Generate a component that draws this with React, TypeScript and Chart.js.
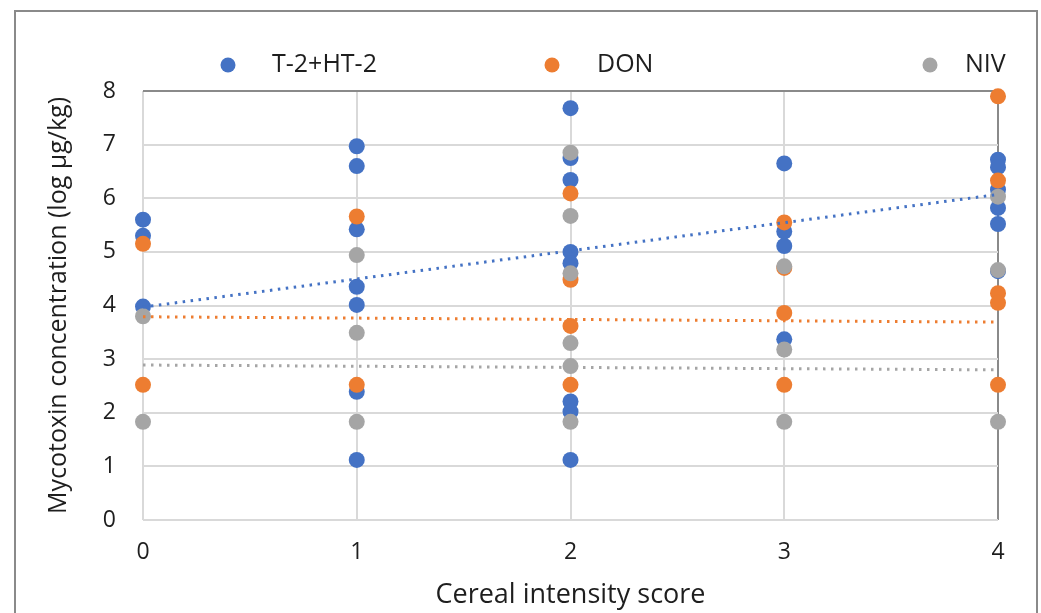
import React, { useEffect, useRef } from "react";
import { Chart, registerables } from "chart.js";

Chart.register(...registerables);

// Cereal intensity scores (x categories)
const scores = [0, 1, 2, 3, 4];

// Mycotoxin concentrations (log µg/kg) per score
const t2Values = [
  [5.6, 5.3, 3.98],
  [6.97, 6.6, 5.42, 4.35, 4.01, 2.39, 1.12],
  [7.68, 6.75, 6.34, 5.0, 4.79, 2.21, 2.02, 1.12],
  [6.65, 5.38, 5.11, 3.37],
  [6.72, 6.58, 6.16, 5.82, 5.52, 4.64],
];
const donValues = [
  [5.15, 2.52],
  [5.66, 2.52],
  [6.09, 4.48, 3.62, 2.52],
  [5.55, 4.7, 3.86, 2.52],
  [7.9, 6.33, 4.23, 4.05, 2.52],
];
const nivValues = [
  [3.8, 1.83],
  [4.94, 3.49, 1.83],
  [6.85, 5.67, 4.6, 3.3, 2.87, 1.83],
  [4.73, 3.18, 1.83],
  [6.03, 4.66, 1.83],
];

// Linear trendline end values (at score 0 and 4)
const trendX = [0, 4];
const t2Trend = [3.97, 6.07];
const donTrend = [3.79, 3.69];
const nivTrend = [2.89, 2.8];

const seriesNames = ["T-2+HT-2", "DON", "NIV"];
const yTicks = [0, 1, 2, 3, 4, 5, 6, 7, 8];

const BLUE = "#4472C4";
const ORANGE = "#ED7D31";
const GRAY = "#A5A5A5";
const FONT = "'Open Sans', 'Noto Sans', sans-serif";
const TEXT = "#1e1e1e";

function toPoints(values: number[][]) {
  const pts: { x: number; y: number }[] = [];
  values.forEach((col, i) => col.forEach((v) => pts.push({ x: scores[i], y: v })));
  return pts;
}
function trendPoints(vals: number[]) {
  return trendX.map((x, i) => ({ x, y: vals[i] }));
}

const framePlugin = {
  id: "frameAndLegend",
  afterDraw(chart: any) {
    const ctx = chart.ctx;
    ctx.save();
    // outer chart border
    ctx.strokeStyle = "#8a8a8a";
    ctx.lineWidth = 2;
    ctx.strokeRect(15, 11, 1022, 620);
    // legend
    const items = [
      { name: seriesNames[0], color: BLUE, mx: 228, tx: 272 },
      { name: seriesNames[1], color: ORANGE, mx: 552, tx: 597 },
      { name: seriesNames[2], color: GRAY, mx: 930, tx: 965 },
    ];
    ctx.font = `25px ${FONT}`;
    ctx.textBaseline = "middle";
    ctx.textAlign = "left";
    items.forEach((it) => {
      ctx.beginPath();
      ctx.fillStyle = it.color;
      ctx.arc(it.mx, 65, 7.5, 0, Math.PI * 2);
      ctx.fill();
      ctx.fillStyle = TEXT;
      ctx.fillText(it.name, it.tx, 65);
    });
    ctx.restore();
  },
};

export default function App() {
  const ref = useRef<HTMLCanvasElement | null>(null);
  useEffect(() => {
    if (!ref.current) return;
    const trendCommon = {
      type: "line" as const,
      showLine: true,
      pointRadius: 0,
      pointHoverRadius: 0,
      borderWidth: 3,
      borderDash: [2.5, 5.5],
      borderCapStyle: "butt" as const,
      fill: false,
      clip: false as any,
    };
    const scatterCommon = {
      pointRadius: 8,
      pointHoverRadius: 8,
      borderWidth: 0,
      clip: false as any,
    };
    const chart = new Chart(ref.current, {
      type: "scatter",
      data: {
        datasets: [
          { label: seriesNames[0], data: toPoints(t2Values), backgroundColor: BLUE, borderColor: BLUE, order: 6, ...scatterCommon },
          { label: seriesNames[1], data: toPoints(donValues), backgroundColor: ORANGE, borderColor: ORANGE, order: 5, ...scatterCommon },
          { label: seriesNames[2], data: toPoints(nivValues), backgroundColor: GRAY, borderColor: GRAY, order: 4, ...scatterCommon },
          { label: "T-2 trend", data: trendPoints(t2Trend), borderColor: BLUE, order: 1, ...trendCommon } as any,
          { label: "DON trend", data: trendPoints(donTrend), borderColor: ORANGE, order: 2, ...trendCommon } as any,
          { label: "NIV trend", data: trendPoints(nivTrend), borderColor: GRAY, order: 3, ...trendCommon } as any,
        ],
      },
      options: {
        animation: false,
        responsive: false,
        maintainAspectRatio: false,
        layout: { padding: { top: 91, right: 43, left: 0, bottom: 0 }, autoPadding: false },
        plugins: { legend: { display: false }, tooltip: { enabled: false } },
        scales: {
          x: {
            type: "linear",
            min: 0,
            max: 4,
            afterFit: (s: any) => { s.height = 93; },
            afterBuildTicks: (s: any) => { s.ticks = scores.map((v) => ({ value: v })); },
            ticks: { padding: 19, color: TEXT, font: { family: FONT, size: 23 } },
            grid: {
              drawTicks: false,
              lineWidth: 2,
              color: (c: any) => (c.tick && c.tick.value === 4 ? "#8a8a8a" : "#d9d9d9"),
            },
            border: { display: false },
            title: {
              display: true,
              text: "Cereal intensity score",
              color: TEXT,
              font: { family: FONT, size: 27 },
              padding: { top: 0, bottom: 1 },
            },
          },
          y: {
            type: "linear",
            min: 0,
            max: 8,
            afterFit: (s: any) => { s.width = 143; },
            afterBuildTicks: (s: any) => { s.ticks = yTicks.map((v) => ({ value: v })); },
            ticks: { padding: 27, color: TEXT, font: { family: FONT, size: 23 } },
            grid: {
              drawTicks: false,
              lineWidth: 2,
              color: (c: any) => (c.tick && c.tick.value === 8 ? "#8a8a8a" : "#d9d9d9"),
            },
            border: { display: false },
            title: {
              display: true,
              text: "Mycotoxin concentration (log µg/kg)",
              color: TEXT,
              font: { family: FONT, size: 25 },
              padding: { top: 44, bottom: 0 },
            },
          },
        },
      },
      plugins: [framePlugin],
    });
    return () => chart.destroy();
  }, []);
  return (
    <div style={{ position: "fixed", left: 0, top: 0, width: 1041, height: 613, background: "#fff" }}>
      <canvas ref={ref} width={1041} height={613} style={{ width: 1041, height: 613, display: "block" }} />
    </div>
  );
}
